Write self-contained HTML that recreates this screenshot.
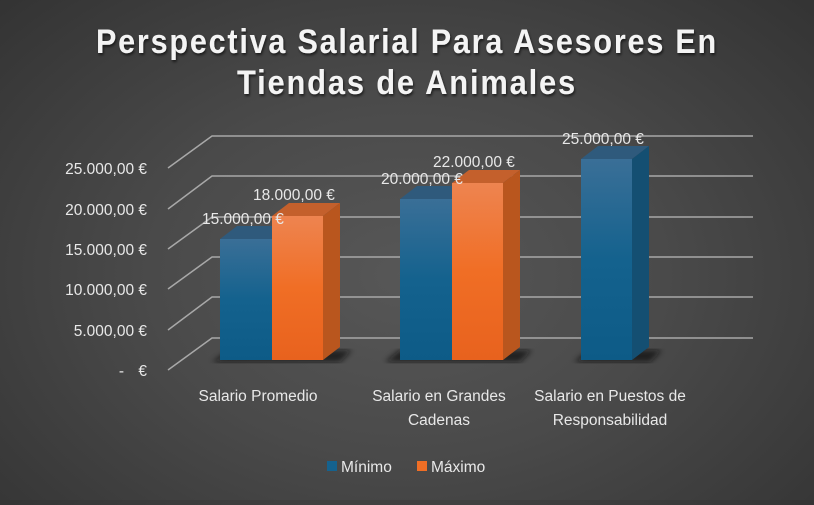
<!DOCTYPE html>
<html><head><meta charset="utf-8"><style>
html,body{margin:0;padding:0}
body{width:814px;height:500px;overflow:hidden;background:radial-gradient(ellipse 70% 80% at 50% 55%,#575757 0%,#4a4a4a 45%,#333 100%);font-family:"Liberation Sans",sans-serif}
</style></head><body>
<svg width="814" height="500" viewBox="0 0 814 500" xmlns="http://www.w3.org/2000/svg">
<defs>
<linearGradient id="bl" x1="0" y1="0" x2="0" y2="1"><stop offset="0" stop-color="#3a6f97"/><stop offset="0.5" stop-color="#14628e"/><stop offset="1" stop-color="#0d5b87"/></linearGradient>
<linearGradient id="or" x1="0" y1="0" x2="0" y2="1"><stop offset="0" stop-color="#ee8450"/><stop offset="0.5" stop-color="#f06e25"/><stop offset="1" stop-color="#e8621e"/></linearGradient>
<filter id="ts"><feDropShadow dx="1" dy="2" stdDeviation="1.2" flood-color="#000" flood-opacity="0.6"/></filter>
<filter id="bs"><feGaussianBlur stdDeviation="3"/></filter>
</defs>
<g filter="url(#ts)" fill="#f4f4f4" font-family="'Liberation Sans Narrow','Liberation Sans',sans-serif" font-weight="bold" font-size="34" text-anchor="middle" letter-spacing="2">
<text x="407" y="53" textLength="622" lengthAdjust="spacingAndGlyphs">Perspectiva Salarial Para Asesores En</text>
<text x="407" y="94" textLength="340" lengthAdjust="spacingAndGlyphs">Tiendas de Animales</text>
</g>
<g stroke="#a8a8a8" stroke-width="1.5" fill="none">
<polyline points="168,168 212,136 753,136"/>
<polyline points="168,209 212,176 753,176"/>
<polyline points="168,249 212,217 753,217"/>
<polyline points="168,289 212,257 753,257"/>
<polyline points="168,330 212,297 753,297"/>
<polyline points="168,370 212,338 753,338"/>
</g>
<g fill="#111" opacity="0.7" filter="url(#bs)">
<polygon points="212,362 340,362 352,350 230,350"/>
<polygon points="385,362 520,362 532,350 400,350"/>
<polygon points="574,362 650,362 662,350 590,350"/>
</g>
<polygon points="220,239 272,239 289,226 237,226" fill="#2f5a7c"/>
<rect x="220" y="239" width="52" height="121" fill="url(#bl)"/>
<polygon points="272,216 323,216 340,203 289,203" fill="#c4602c"/>
<polygon points="323,216 340,203 340,347 323,360" fill="#b9561e"/>
<rect x="272" y="216" width="51" height="144" fill="url(#or)"/>
<polygon points="400,199 452,199 469,186 417,186" fill="#2f5a7c"/>
<rect x="400" y="199" width="52" height="161" fill="url(#bl)"/>
<polygon points="452,183 503,183 520,170 469,170" fill="#c4602c"/>
<polygon points="503,183 520,170 520,347 503,360" fill="#b9561e"/>
<rect x="452" y="183" width="51" height="177" fill="url(#or)"/>
<polygon points="581,159 632,159 649,146 598,146" fill="#2f5a7c"/>
<polygon points="632,159 649,146 649,347 632,360" fill="#144f72"/>
<rect x="581" y="159" width="51" height="201" fill="url(#bl)"/>
<g fill="#e8e8e8" font-size="15.5">
<text x="202" y="224">15.000,00 €</text>
<text x="253" y="200">18.000,00 €</text>
<text x="381" y="184">20.000,00 €</text>
<text x="433" y="167">22.000,00 €</text>
<text x="562" y="144">25.000,00 €</text>
</g>
<g fill="#e8e8e8" font-size="15.5" text-anchor="end">
<text x="147" y="174">25.000,00 €</text>
<text x="147" y="215">20.000,00 €</text>
<text x="147" y="255">15.000,00 €</text>
<text x="147" y="295">10.000,00 €</text>
<text x="147" y="336">5.000,00 €</text>
<text x="147" y="376">€</text>
<text x="124" y="376">-</text>
</g>
<g fill="#e8e8e8" font-size="15.5" text-anchor="middle">
<text x="258" y="401">Salario Promedio</text>
<text x="439" y="401">Salario en Grandes</text>
<text x="439" y="425">Cadenas</text>
<text x="610" y="401">Salario en Puestos de</text>
<text x="610" y="425">Responsabilidad</text>
</g>
<rect x="327" y="461" width="10" height="10" fill="#15628e"/>
<text x="341" y="472" fill="#e8e8e8" font-size="15.5">Mínimo</text>
<rect x="417" y="461" width="10" height="10" fill="#f06e25"/>
<text x="431" y="472" fill="#e8e8e8" font-size="15.5">Máximo</text>
</svg>
</body></html>
